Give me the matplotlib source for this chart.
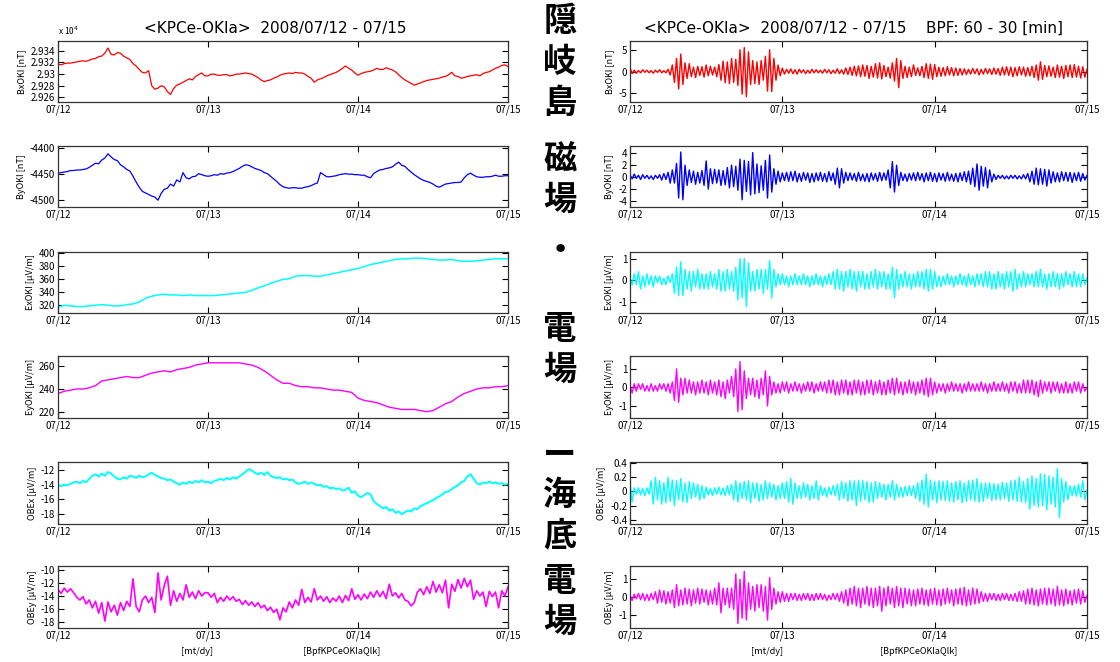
import matplotlib
matplotlib.use("Agg")
import matplotlib.pyplot as plt
import numpy as np
from matplotlib.ticker import FuncFormatter

plt.rcParams['font.family'] = ['Noto Sans CJK JP', 'DejaVu Sans']
plt.rcParams['axes.unicode_minus'] = False

# %% data
tick_labels = ['07/12', '07/13', '07/14', '07/15']

# Oki magnetic field, every 30 min (07/12 00h .. 07/15 00h)
bx_raw = [29317, 29316, 29318, 29319, 29319, 29320, 29321, 29322, 29323, 29322, 29324, 29326,
          29327, 29330, 29331, 29336, 29345, 29334, 29333, 29337, 29336, 29331, 29328, 29325,
          29318, 29314, 29308, 29303, 29302, 29306, 29280, 29274, 29276, 29280, 29278, 29270,
          29265, 29275, 29281, 29283, 29286, 29289, 29292, 29290, 29296, 29299, 29302, 29297,
          29297, 29300, 29300, 29298, 29298, 29299, 29299, 29297, 29298, 29300, 29300, 29301,
          29302, 29301, 29300, 29297, 29294, 29290, 29287, 29289, 29290, 29293, 29295, 29298,
          29300, 29301, 29302, 29301, 29303, 29302, 29302, 29300, 29296, 29293, 29286, 29290,
          29292, 29294, 29297, 29299, 29301, 29303, 29306, 29310, 29314, 29310, 29307, 29302,
          29298, 29301, 29303, 29304, 29305, 29307, 29310, 29308, 29308, 29311, 29309, 29307,
          29304, 29299, 29294, 29290, 29287, 29284, 29281, 29283, 29285, 29287, 29289, 29290,
          29291, 29292, 29293, 29295, 29296, 29299, 29303, 29297, 29296, 29293, 29294, 29296,
          29297, 29298, 29299, 29297, 29301, 29303, 29304, 29307, 29310, 29312, 29315, 29316,
          29313]
by_raw = [-4449, -4448, -4447, -4446, -4444, -4444, -4443, -4443, -4442, -4441, -4438, -4434,
          -4430, -4431, -4424, -4420, -4412, -4418, -4423, -4425, -4433, -4437, -4442, -4445,
          -4455, -4466, -4476, -4484, -4487, -4490, -4493, -4495, -4501, -4488, -4480, -4478,
          -4470, -4474, -4462, -4466, -4448, -4458, -4460, -4456, -4455, -4450, -4452, -4454,
          -4455, -4454, -4452, -4453, -4450, -4451, -4449, -4448, -4446, -4443, -4440, -4436,
          -4433, -4434, -4437, -4440, -4442, -4444, -4448, -4450, -4455, -4460, -4465, -4471,
          -4475, -4477, -4478, -4477, -4477, -4478, -4478, -4476, -4475, -4473, -4470, -4468,
          -4448, -4452, -4456, -4456, -4455, -4454, -4452, -4451, -4450, -4451, -4451, -4452,
          -4452, -4453, -4453, -4456, -4458, -4450, -4446, -4443, -4442, -4440, -4439, -4437,
          -4432, -4428, -4434, -4436, -4442, -4447, -4452, -4456, -4460, -4463, -4465, -4467,
          -4470, -4474, -4476, -4473, -4470, -4469, -4468, -4467, -4467, -4466, -4458, -4452,
          -4449, -4453, -4456, -4457, -4457, -4456, -4456, -4455, -4453, -4455, -4455, -4454,
          -4454]

# Oki electric field, hourly
ex_raw = [316, 319, 318, 317, 317, 318, 319, 320, 319, 318, 318, 320,
          321, 324, 330, 333, 335, 336, 335, 335, 334, 335, 334, 334,
          334, 334, 335, 336, 337, 338, 339, 342, 346, 349, 353, 356,
          359, 360, 364, 365, 365, 364, 364, 366, 368, 370, 372, 374,
          376, 379, 382, 384, 386, 388, 390, 391, 391, 392, 392, 391,
          390, 389, 389, 390, 388, 387, 387, 388, 389, 390, 391, 391,
          391]
ey_raw = [236, 238, 239, 240, 240, 241, 243, 247, 248, 249, 250, 251,
          250, 250, 252, 254, 255, 256, 255, 257, 258, 259, 261, 262,
          263, 263, 263, 263, 263, 263, 262, 261, 259, 256, 252, 248,
          245, 245, 243, 242, 242, 241, 241, 240, 239, 239, 238, 237,
          232, 230, 229, 228, 226, 224, 223, 222, 222, 222, 221, 220,
          221, 224, 227, 229, 233, 236, 238, 240, 241, 241, 242, 242,
          243]

# sea-bottom electric field, every 30 min
obex_raw = [-14.0, -14.2, -14.0, -14.1, -13.9, -13.7, -13.6, -13.8, -13.5, -13.7, -13.2, -12.8,
            -12.6, -12.9, -12.5, -12.8, -12.3, -12.5, -12.9, -13.2, -13.3, -13.0, -13.2, -12.8,
            -12.9, -13.1, -12.8, -13.0, -12.9, -12.6, -12.4, -12.7, -12.9, -13.1, -13.2, -13.4,
            -13.3, -13.6, -13.8, -14.0, -13.7, -13.9, -13.6, -13.8, -13.5, -13.7, -13.4, -13.7,
            -13.6, -13.8, -13.5, -13.4, -13.2, -13.4, -13.1, -13.3, -13.0, -13.2, -12.9, -12.6,
            -12.3, -11.9, -12.1, -12.4, -12.6, -12.4, -12.7, -12.3, -12.8, -13.0, -13.1, -13.0,
            -13.3, -13.2, -13.4, -13.3, -13.7, -13.9, -13.8, -13.6, -13.9, -13.7, -13.9, -14.1,
            -14.0, -14.3, -14.2, -14.5, -14.4, -14.6, -14.5, -14.8, -14.7, -14.4, -15.1, -14.9,
            -15.5, -15.7, -15.4, -15.1, -15.3, -16.2, -16.6, -16.9, -17.2, -17.0, -17.5, -17.3,
            -17.8, -17.6, -18.0, -17.7, -17.5, -17.6, -17.2, -17.3, -16.9, -16.7, -16.5, -16.3,
            -16.1, -15.8, -15.6, -15.3, -15.0, -14.9, -14.6, -14.3, -14.1, -13.7, -13.5, -12.9,
            -12.6, -13.2, -13.8, -14.0, -13.7, -13.8, -13.6, -13.8, -13.7, -13.9, -13.8, -14.0,
            -13.9]
obey_raw = [-13.0, -13.6, -12.8, -13.4, -12.9, -13.5, -14.2, -14.6, -14.1, -15.2, -14.6, -15.8,
            -14.8, -16.6, -15.0, -17.8, -14.9, -16.4, -15.4, -16.9, -15.0, -16.2, -14.8, -15.6,
            -11.4, -15.6, -16.4, -14.6, -14.0, -15.0, -14.2, -16.5, -10.5, -14.6, -12.4, -11.0,
            -15.4, -13.2, -14.8, -13.6, -14.6, -12.3, -14.2, -13.4, -14.4, -13.2, -14.0, -13.5,
            -13.5, -14.2, -13.6, -15.0, -14.2, -14.8, -14.0, -14.6, -14.1, -14.8, -14.5, -15.3,
            -14.7, -15.4, -14.9, -15.6, -15.0, -15.8, -15.4, -16.2, -15.7, -16.5, -16.0, -17.6,
            -15.8, -16.4, -14.9, -15.8, -14.6, -15.4, -13.0, -15.0, -14.2, -14.9, -12.9, -14.6,
            -14.0, -14.8, -14.1, -15.0, -14.3, -14.8, -14.0, -15.0, -13.9, -14.7, -12.9, -14.5,
            -13.8, -14.6, -13.7, -14.4, -13.4, -14.2, -13.2, -14.1, -13.3, -14.4, -12.2, -14.0,
            -13.5, -14.3, -13.6, -14.6, -14.8, -15.5, -15.0, -13.4, -12.9, -13.8, -12.6, -13.6,
            -11.8, -13.4, -12.3, -13.5, -11.6, -15.8, -12.2, -13.3, -11.5, -12.8, -11.3, -12.6,
            -11.6, -14.5, -13.2, -14.0, -13.4, -15.6, -13.3, -14.1, -13.4, -15.8, -13.2, -14.0,
            -12.6]

# band-pass 60-30 min, every 20 min
bx_bp = [0.9, -0.5, 0.3, -0.4, 0.2, -0.3, 0.4, -0.2, 0.3, -0.3, 0.2, -0.4, 0.3, -0.2, 0.4, -0.3, 0.2, -0.3,
         0.5, -0.8, 1.5, -2.5, 3.0, -4.0, 4.0, -3.0, 2.0, -1.6, 1.8, -1.2, 1.0, -1.4, 1.2, -0.9, 1.1, -1.3,
         1.5, -1.0, 1.2, -0.8, 1.0, -1.2, 1.6, -2.0, 2.4, -2.6, 2.2, -2.8, 3.0, -2.5, 2.8, -3.2, 5.0, -5.2,
         5.5, -5.8, 4.5, -3.0, 2.5, -2.8, 2.2, -3.0, 2.5, -2.0, 3.5, -4.5, 5.0, -4.6, 3.0, -2.0, 1.5, -1.0,
         0.8, -0.6, 0.5, -0.4, 0.6, -0.5, 0.4, -0.6, 0.5, -0.3, 0.4, -0.5, 0.3, -0.4, 0.5, -0.3, 0.4, -0.3,
         0.3, -0.4, 0.5, -0.3, 0.4, -0.5, 0.3, -0.4, 0.6, -0.5, 0.4, -0.6, 0.8, -0.7, 1.0, -0.9, 1.2, -1.0,
         1.3, -1.2, 1.5, -1.1, 1.4, -1.6, 1.2, -1.3, 1.8, -1.5, 2.0, -1.7, 1.4, -1.2, 1.0, -1.5, 2.0, -2.2,
         3.0, -3.7, 2.5, -1.6, 1.2, -1.4, 1.0, -1.2, 1.5, -0.9, 0.8, -1.0, 1.2, -1.4, 1.8, -1.6, 1.7, -1.8,
         1.6, -1.2, 1.0, -1.1, 0.9, -1.0, 1.1, -0.8, 0.9, -1.0, 0.8, -0.9, 0.7, -0.8, 0.6, -0.7, 0.5, -0.6,
         0.7, -0.5, 0.6, -0.8, 0.5, -0.6, 0.7, -0.5, 0.6, -0.7, 0.8, -0.6, 0.7, -0.9, 1.0, -0.8, 1.1, -0.9,
         1.0, -1.2, 0.9, -1.0, 1.1, -0.8, 1.0, -1.1, 0.9, -1.0, 1.2, -1.4, 1.5, -2.0, 2.2, -1.8, 1.4, -1.2,
         1.3, -1.1, 1.0, -1.4, 1.5, -1.3, 1.2, -1.6, 1.4, -1.2, 1.5, -1.4, 1.6, -1.3, 1.2, -1.5, 1.1, -1.3,
         0.5]
by_bp = [0.4, -0.3, 0.5, -0.2, 0.3, -0.4, 0.4, -0.2, 0.3, -0.3, 0.2, -0.4, 0.3, -0.2, 0.4, -0.5, 0.6, -0.4,
         0.8, -1.0, 1.2, -1.0, 2.3, -3.5, 4.2, -3.8, 2.0, -1.4, 1.2, -0.9, 1.0, -1.2, 0.8, -1.0, 1.1, -1.4,
         2.7, -2.0, 1.4, -1.1, 1.3, -1.0, 1.2, -1.4, 1.1, -1.3, 1.6, -1.8, 2.0, -1.6, 1.8, -2.2, 3.0, -3.8,
         2.8, -2.4, 2.6, -3.0, 4.1, -2.8, 2.2, -2.6, 1.9, -2.2, 2.8, -3.5, 3.7, -2.5, 1.4, -1.2, 1.0, -0.8,
         0.7, -0.6, 0.8, -0.7, 0.9, -0.6, 1.0, -0.8, 0.6, -0.7, 0.8, -0.5, 0.7, -0.9, 0.6, -0.8, 0.7, -0.6,
         0.8, -0.7, 0.6, -0.8, 0.9, -0.6, 0.7, -1.2, 1.5, -1.8, 1.4, -1.0, 0.8, -0.6, 0.7, -0.5, 0.6, -0.7,
         0.8, -0.6, 0.5, -0.7, 0.6, -0.8, 0.7, -0.5, 0.6, -0.7, 0.8, -0.6, 0.7, -0.5, 1.2, -1.8, 2.6, -2.5,
         2.0, -1.4, 0.8, -0.6, 0.5, -0.7, 0.6, -0.5, 0.7, -0.6, 0.8, -0.5, 0.6, -0.8, 0.7, -0.6, 0.8, -0.7,
         0.6, -0.8, 0.7, -0.5, 0.6, -0.7, 0.8, -0.6, 0.5, -0.7, 0.6, -0.8, 0.7, -0.6, 0.9, -0.8, 1.0, -1.2,
         1.5, -1.6, 2.2, -2.2, 1.8, -1.5, 1.6, -1.8, 1.2, -0.8, 0.5, -0.4, 0.3, -0.2, 0.3, -0.3, 0.2, -0.3,
         0.3, -0.2, 0.3, -0.3, 0.2, -0.3, 0.4, -0.3, 0.6, -0.8, 1.0, -1.2, 1.5, -1.3, 1.4, -1.2, 1.3, -1.5,
         1.2, -1.0, 0.9, -0.8, 0.7, -0.8, 0.9, -0.6, 0.8, -0.7, 0.8, -0.9, 0.7, -0.6, 0.8, -0.7, 0.6, -0.5,
         0.3]
ex_bp = [0.1, -0.2, 0.3, -0.2, 0.4, -0.4, 0.2, -0.3, 0.3, -0.2, 0.2, -0.3, 0.2, -0.1, 0.2, -0.2, 0.1, -0.2,
         0.2, -0.1, 0.3, -0.6, 0.6, -0.7, 0.85, -0.7, 0.5, -0.4, 0.4, -0.5, 0.4, -0.3, 0.5, -0.4, 0.3, -0.4,
         0.3, -0.4, 0.4, -0.3, 0.3, -0.4, 0.5, -0.5, 0.4, -0.5, 0.5, -0.4, 0.4, -0.5, 0.6, -0.9, 1.0, -0.8,
         1.0, -1.2, 0.8, -0.5, 0.4, -0.5, 0.5, -0.4, 0.5, -0.6, 0.5, -0.4, 0.9, -0.8, 0.5, -0.3, 0.3, -0.2,
         0.3, -0.2, 0.2, -0.3, 0.2, -0.2, 0.3, -0.2, 0.2, -0.2, 0.3, -0.2, 0.2, -0.3, 0.2, -0.2, 0.3, -0.2,
         0.2, -0.3, 0.2, -0.2, 0.3, -0.2, 0.4, -0.4, 0.5, -0.4, 0.4, -0.5, 0.4, -0.3, 0.5, -0.4, 0.4, -0.5,
         0.4, -0.3, 0.4, -0.4, 0.3, -0.4, 0.4, -0.3, 0.5, -0.4, 0.4, -0.3, 0.4, -0.4, 0.3, -0.4, 0.6, -0.8,
         0.5, -0.4, 0.3, -0.3, 0.4, -0.3, 0.3, -0.4, 0.3, -0.3, 0.4, -0.3, 0.4, -0.4, 0.5, -0.5, 0.5, -0.4,
         0.4, -0.3, 0.2, -0.3, 0.2, -0.2, 0.3, -0.2, 0.2, -0.3, 0.2, -0.2, 0.3, -0.2, 0.2, -0.3, 0.3, -0.2,
         0.2, -0.3, 0.3, -0.2, 0.3, -0.3, 0.4, -0.3, 0.4, -0.4, 0.3, -0.4, 0.4, -0.3, 0.3, -0.4, 0.4, -0.3,
         0.4, -0.5, 0.5, -0.4, 0.3, -0.3, 0.4, -0.3, 0.3, -0.2, 0.3, -0.3, 0.4, -0.3, 0.5, -0.3, 0.3, -0.4,
         0.3, -0.3, 0.4, -0.3, 0.3, -0.4, 0.3, -0.3, 0.4, -0.2, 0.3, -0.3, 0.4, -0.3, 0.3, -0.3, 0.3, -0.2,
         0.1]
ey_bp = [0.1, -0.3, 0.2, -0.2, 0.2, -0.1, 0.2, -0.2, 0.1, -0.2, 0.2, -0.2, 0.1, -0.2, 0.2, -0.1, 0.2, -0.2,
         0.2, -0.3, 0.3, -0.7, 1.0, -0.8, 0.5, -0.4, 0.5, -0.3, 0.4, -0.3, 0.3, -0.4, 0.3, -0.3, 0.4, -0.3,
         0.3, -0.4, 0.4, -0.3, 0.3, -0.4, 0.4, -0.5, 0.3, -0.6, 0.4, -0.3, 0.6, -0.5, 1.0, -1.3, 1.4, -1.2,
         0.9, -0.6, 0.5, -0.4, 0.5, -0.5, 0.4, -0.6, 0.5, -0.4, 0.9, -1.0, 0.6, -0.4, 0.3, -0.3, 0.2, -0.3,
         0.3, -0.2, 0.3, -0.3, 0.2, -0.2, 0.3, -0.2, 0.2, -0.3, 0.2, -0.2, 0.3, -0.2, 0.3, -0.3, 0.2, -0.2,
         0.3, -0.2, 0.3, -0.3, 0.4, -0.3, 0.4, -0.4, 0.3, -0.4, 0.4, -0.3, 0.4, -0.4, 0.3, -0.4, 0.4, -0.3,
         0.4, -0.4, 0.3, -0.4, 0.4, -0.3, 0.4, -0.4, 0.3, -0.3, 0.4, -0.4, 0.3, -0.4, 0.4, -0.3, 0.5, -0.4,
         0.5, -0.3, 0.3, -0.4, 0.3, -0.3, 0.4, -0.3, 0.3, -0.4, 0.3, -0.3, 0.4, -0.4, 0.5, -0.5, 0.5, -0.4,
         0.3, -0.3, 0.2, -0.2, 0.2, -0.3, 0.2, -0.2, 0.3, -0.2, 0.2, -0.2, 0.2, -0.3, 0.2, -0.2, 0.3, -0.2,
         0.2, -0.2, 0.2, -0.2, 0.3, -0.2, 0.2, -0.3, 0.2, -0.2, 0.3, -0.2, 0.2, -0.2, 0.3, -0.2, 0.2, -0.3,
         0.3, -0.2, 0.3, -0.3, 0.2, -0.3, 0.4, -0.3, 0.4, -0.3, 0.4, -0.4, 0.3, -0.5, 0.4, -0.3, 0.3, -0.2,
         0.3, -0.3, 0.3, -0.2, 0.3, -0.3, 0.2, -0.3, 0.3, -0.3, 0.2, -0.3, 0.3, -0.2, 0.3, -0.3, 0.2, -0.2,
         0.0]
obex_bp = [0.12, -0.15, 0.05, -0.04, 0.05, -0.05, 0.04, -0.06, 0.05, -0.04, 0.15, -0.18, 0.20, -0.12, 0.15, -0.18, 0.12, -0.16,
           0.20, -0.14, 0.16, -0.20, 0.15, -0.12, 0.18, -0.15, 0.12, -0.16, 0.14, -0.10, 0.12, -0.08, 0.10, -0.12, 0.08, -0.10,
           0.06, -0.05, 0.04, -0.06, 0.05, -0.04, 0.06, -0.05, 0.05, -0.06, 0.08, -0.05, 0.10, -0.12, 0.15, -0.15, 0.12, -0.10,
           0.14, -0.12, 0.15, -0.16, 0.12, -0.10, 0.12, -0.14, 0.10, -0.12, 0.15, -0.10, 0.12, -0.08, 0.10, -0.12, 0.08, -0.10,
           0.12, -0.10, 0.14, -0.15, 0.18, -0.18, 0.12, -0.10, 0.08, -0.10, 0.12, -0.08, 0.10, -0.12, 0.08, -0.10, 0.15, -0.12,
           0.08, -0.06, 0.05, -0.08, 0.06, -0.05, 0.08, -0.06, 0.10, -0.12, 0.14, -0.10, 0.12, -0.14, 0.15, -0.12, 0.15, -0.20,
           0.16, -0.14, 0.15, -0.12, 0.14, -0.16, 0.12, -0.15, 0.14, -0.10, 0.12, -0.08, 0.10, -0.12, 0.10, -0.08, 0.15, -0.12,
           0.10, -0.08, 0.06, -0.08, 0.07, -0.06, 0.08, -0.06, 0.08, -0.10, 0.12, -0.14, 0.16, -0.18, 0.24, -0.22, 0.16, -0.12,
           0.14, -0.16, 0.15, -0.12, 0.14, -0.13, 0.15, -0.14, 0.12, -0.15, 0.14, -0.12, 0.15, -0.16, 0.12, -0.14, 0.15, -0.12,
           0.16, -0.14, 0.18, -0.15, 0.12, -0.14, 0.12, -0.10, 0.12, -0.13, 0.11, -0.12, 0.10, -0.12, 0.13, -0.10, 0.12, -0.14,
           0.15, -0.12, 0.16, -0.14, 0.20, -0.15, 0.14, -0.16, 0.18, -0.25, 0.22, -0.20, 0.18, -0.22, 0.25, -0.20, 0.24, -0.26,
           0.22, -0.18, 0.20, -0.22, 0.32, -0.37, 0.18, -0.15, 0.14, -0.12, 0.08, -0.06, 0.08, -0.07, 0.10, -0.08, 0.15, -0.12,
           0.02]
obey_bp = [0.1, -0.2, 0.15, -0.1, 0.2, -0.15, 0.2, -0.2, 0.15, -0.2, 0.2, -0.15, 0.3, -0.35, 0.4, -0.3, 0.35, -0.4,
           0.3, -0.35, 0.4, -0.6, 0.7, -0.5, 0.4, -0.45, 0.5, -0.4, 0.45, -0.5, 0.4, -0.35, 0.5, -0.4, 0.45, -0.3,
           0.4, -0.45, 0.35, -0.4, 0.5, -0.45, 0.8, -0.9, 0.5, -0.45, 0.5, -0.6, 0.5, -0.7, 1.3, -1.5, 1.0, -1.2,
           1.45, -1.3, 0.8, -0.7, 0.6, -0.8, 0.7, -0.6, 0.7, -0.8, 0.6, -1.3, 1.1, -0.7, 0.5, -0.4, 0.3, -0.3,
           0.3, -0.25, 0.2, -0.25, 0.2, -0.15, 0.2, -0.2, 0.15, -0.2, 0.2, -0.15, 0.2, -0.2, 0.15, -0.2, 0.2, -0.15,
           0.2, -0.15, 0.15, -0.2, 0.1, -0.15, 0.2, -0.15, 0.2, -0.25, 0.3, -0.35, 0.4, -0.5, 0.5, -0.4, 0.6, -0.5,
           0.5, -0.6, 0.5, -0.4, 0.6, -0.5, 0.5, -0.6, 0.5, -0.5, 0.6, -0.8, 0.5, -0.5, 0.6, -0.4, 0.5, -0.6,
           0.6, -0.5, 0.5, -0.6, 0.5, -0.4, 0.45, -0.5, 0.4, -0.5, 0.45, -0.4, 0.5, -0.45, 0.4, -0.5, 0.45, -0.4,
           0.5, -0.45, 0.4, -0.5, 0.45, -0.4, 0.5, -0.35, 0.4, -0.5, 0.45, -0.4, 0.5, -0.45, 0.55, -0.5, 0.4, -0.45,
           0.5, -0.4, 0.45, -0.35, 0.3, -0.25, 0.2, -0.25, 0.2, -0.15, 0.2, -0.2, 0.15, -0.2, 0.2, -0.15, 0.2, -0.2,
           0.15, -0.2, 0.2, -0.25, 0.3, -0.25, 0.35, -0.4, 0.45, -0.4, 0.5, -0.45, 0.4, -0.5, 0.45, -0.4, 0.5, -0.45,
           0.5, -0.4, 0.45, -0.5, 0.6, -0.45, 0.4, -0.5, 0.45, -0.4, 0.35, -0.45, 0.4, -0.35, 0.45, -0.4, 0.35, -0.3,
           0.1]

t_hour = np.arange(len(ex_raw))
t_half = np.arange(len(bx_raw)) * 0.5
t_third = np.arange(len(bx_bp)) / 3.0

# %% figure
W, H = 1120, 662
fig = plt.figure(figsize=(W / 100, H / 100), dpi=100)


def box(x0, x1, top, bottom):
    return [x0 / W, 1 - bottom / H, (x1 - x0) / W, (bottom - top) / H]


rows = [(41, 102), (146, 207), (252, 313), (356, 418), (462, 524), (566, 628)]

# (time, values, colour, label, yticks, ylim, linewidth)
left = [
    (t_half, np.array(bx_raw) / 1e4, 'red', 'BxOKI [nT]', [2.926, 2.928, 2.930, 2.932, 2.934], (2.9252, 2.9357), 0.9),
    (t_half, by_raw, 'blue', 'ByOKI [nT]', [-4500, -4450, -4400], (-4514, -4397), 0.9),
    (t_hour, ex_raw, 'cyan', 'ExOKI [μV/m]', [320, 340, 360, 380, 400], (307, 401.5), 1.1),
    (t_hour, ey_raw, 'magenta', 'EyOKI [μV/m]', [220, 240, 260], (214.5, 269), 1.0),
    (t_half, obex_raw, 'cyan', 'OBEx [μV/m]', [-18, -16, -14, -12], (-19.3, -10.95), 1.4),
    (t_half, obey_raw, 'magenta', 'OBEy [μV/m]', [-18, -16, -14, -12, -10], (-18.85, -9.45), 1.2),
]
right = [
    (t_third, bx_bp, 'red', 'BxOKI [nT]', [-5, 0, 5], (-7, 7), 1.0),
    (t_third, by_bp, 'blue', 'ByOKI [nT]', [-4, -2, 0, 2, 4], (-5, 5.2), 1.0),
    (t_third, ex_bp, 'cyan', 'ExOKI [μV/m]', [-1, 0, 1], (-1.5, 1.3), 1.0),
    (t_third, ey_bp, 'magenta', 'EyOKI [μV/m]', [-1, 0, 1], (-1.65, 1.7), 1.0),
    (t_third, obex_bp, 'cyan', 'OBEx [μV/m]', [-0.4, -0.2, 0, 0.2, 0.4], (-0.46, 0.415), 1.0),
    (t_third, obey_bp, 'magenta', 'OBEy [μV/m]', [-1, 0, 1], (-1.75, 1.75), 1.0),
]

fmt = FuncFormatter(lambda v, p: '%g' % round(v, 4))

for col, (x0, x1) in zip([left, right], [(58, 508), (630, 1087)]):
    for (t, y, c, lab, yt, yl, lw), (top, bot) in zip(col, rows):
        ax = fig.add_axes(box(x0, x1, top, bot))
        ax.plot(t, y, color=c, lw=lw)
        ax.set_xlim(0, 72)
        ax.set_xticks([0, 24, 48, 72])
        ax.set_xticklabels(tick_labels)
        ax.set_yticks(yt)
        ax.set_ylim(*yl)
        ax.yaxis.set_major_formatter(fmt)
        ax.set_ylabel(lab, fontsize=6.5, labelpad=3)
        ax.tick_params(direction='in', top=True, right=True, length=4, width=0.8,
                       labelsize=7, pad=2)
        for s in ax.spines.values():
            s.set_linewidth(0.9)
            s.set_color('#333333')

fig.text(275 / W, 1 - 28 / H, '<KPCe-OKIa>  2008/07/12 - 07/15', ha='center', va='center',
         fontsize=11, family='DejaVu Sans')
fig.text(853 / W, 1 - 28 / H, '<KPCe-OKIa>  2008/07/12 - 07/15    BPF: 60 - 30 [min]',
         ha='center', va='center', fontsize=11, family='DejaVu Sans')
fig.text(58 / W, 1 - 31 / H, 'x 10$^4$', ha='left', va='center', fontsize=6)

for xc in [197, 767]:
    fig.text(xc / W, 1 - 652 / H, '[mt/dy]', ha='center', va='center', fontsize=6.5)
for xc in [342, 919]:
    fig.text(xc / W, 1 - 652 / H, '[BpfKPCeOKIaQlk]', ha='center', va='center', fontsize=6.5)

# vertical caption between the two columns
chars = ['隠', '岐', '島', '磁', '場', '・', '電', '場', 'ー', '海', '底', '電', '場']
ypos = [22, 63, 103, 160, 200, 250, 330, 370, 455, 495, 536, 582, 622]
for ch, yp in zip(chars, ypos):
    fig.text(560 / W, 1 - yp / H, ch, ha='center', va='center', fontsize=24, fontweight='bold')

fig.savefig('out.png', dpi=100)
